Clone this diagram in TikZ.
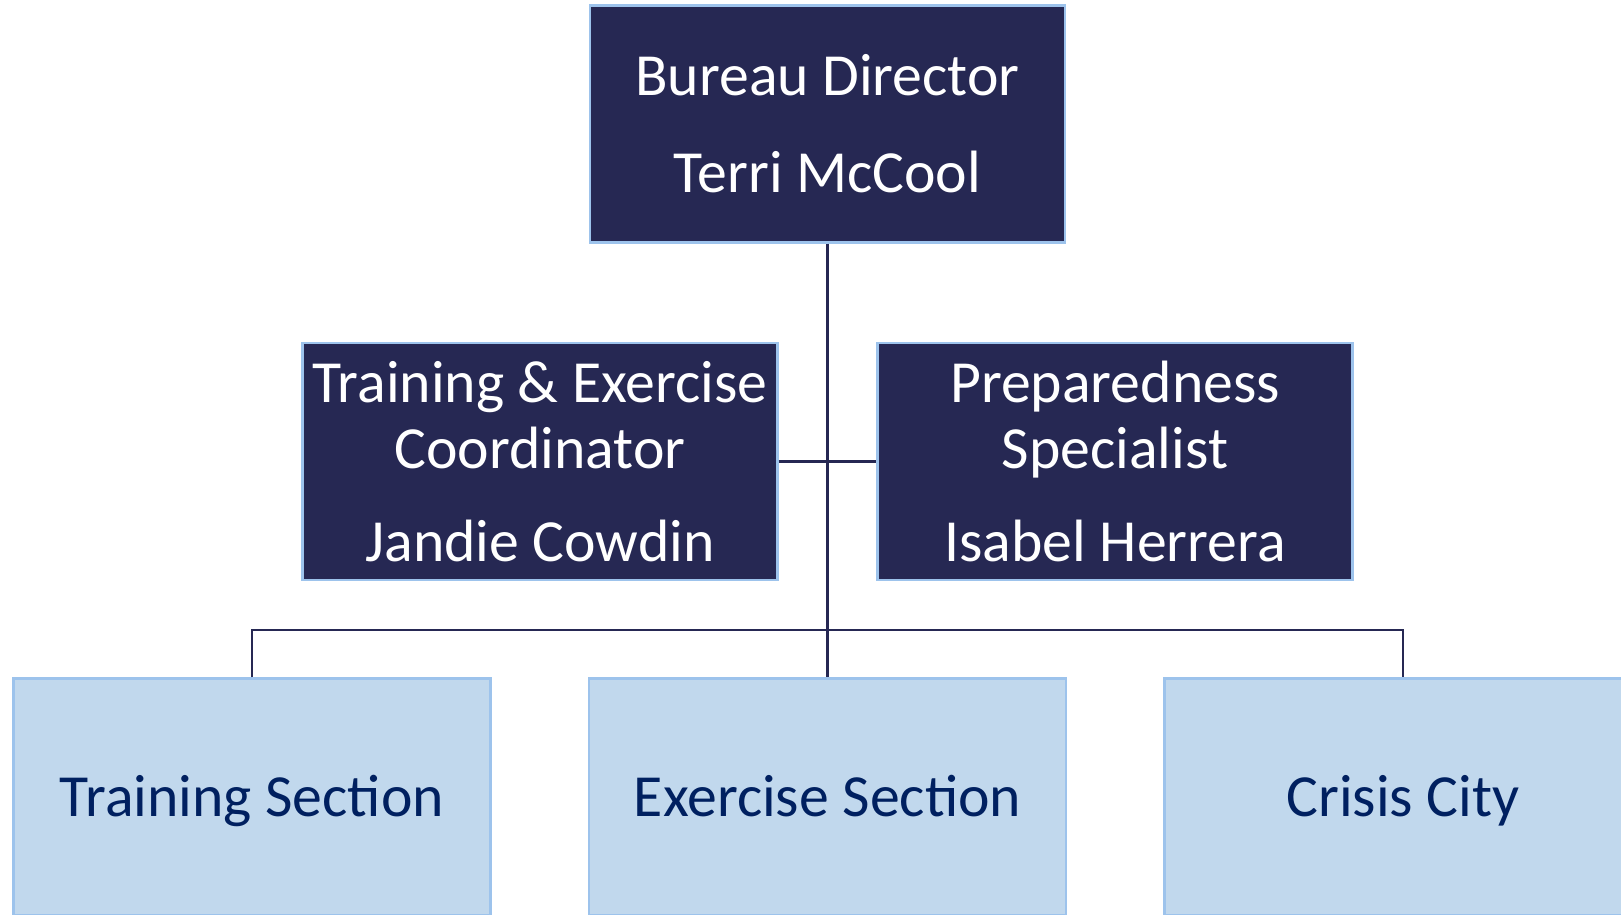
\documentclass[tikz,border=0pt]{standalone}
\usepackage{fontspec}
\setmainfont{Carlito}
\definecolor{navyFill}{RGB}{38,40,83}
\definecolor{paleEdge}{RGB}{157,195,236}
\definecolor{paleFill}{RGB}{193,216,237}
\definecolor{sectionText}{RGB}{0,32,96}

\begin{document}
\begin{tikzpicture}
[x=0.02cm,y=-0.02cm,%
  lineDecorate/.style={-,draw=navyFill,line width=1.4pt},%
  staffDecorate/.style={shape=rectangle,fill=navyFill,draw=paleEdge,line width=1.3pt,
    minimum width=9.5cm,minimum height=4.74cm,inner sep=0pt,align=center,text=white,
    font=\fontsize{34}{37.5}\selectfont},%
  sectionDecorate/.style={shape=rectangle,fill=paleFill,draw=paleEdge,line width=1.3pt,
    minimum width=9.54cm,minimum height=4.74cm,inner sep=0pt,text=sectionText,
    text height=0.77cm,text depth=0pt,font=\fontsize{34}{37.5}\selectfont}]
\useasboundingbox (0,0) rectangle (1621,915);
%% staff boxes
\node (dir) at (827.5,124) [staffDecorate] {Bureau Director\\[0.62cm]Terri McCool};
\node (coord) at (540,461.5) [staffDecorate] {Training \& Exercise\\Coordinator\\[0.54cm]Jandie Cowdin};
\node (spec) at (1115,461.5) [staffDecorate] {Preparedness\\Specialist\\[0.54cm]Isabel Herrera};
%% section boxes
\foreach \nodename/\x/\label in {
  train/252/Training Section, exer/827.5/Exercise Section, crisis/1403/Crisis City}
{
  \node (\nodename) at (\x,797) [sectionDecorate] {\label};
}
\coordinate (bus) at (827.5,630);
%% lines
\draw[lineDecorate] (dir.south) -- (exer.north);
\draw[lineDecorate] (coord.east) -- (spec.west);
\draw[lineDecorate] (train.north) |- (bus) -| (crisis.north);
\end{tikzpicture}
\end{document}
